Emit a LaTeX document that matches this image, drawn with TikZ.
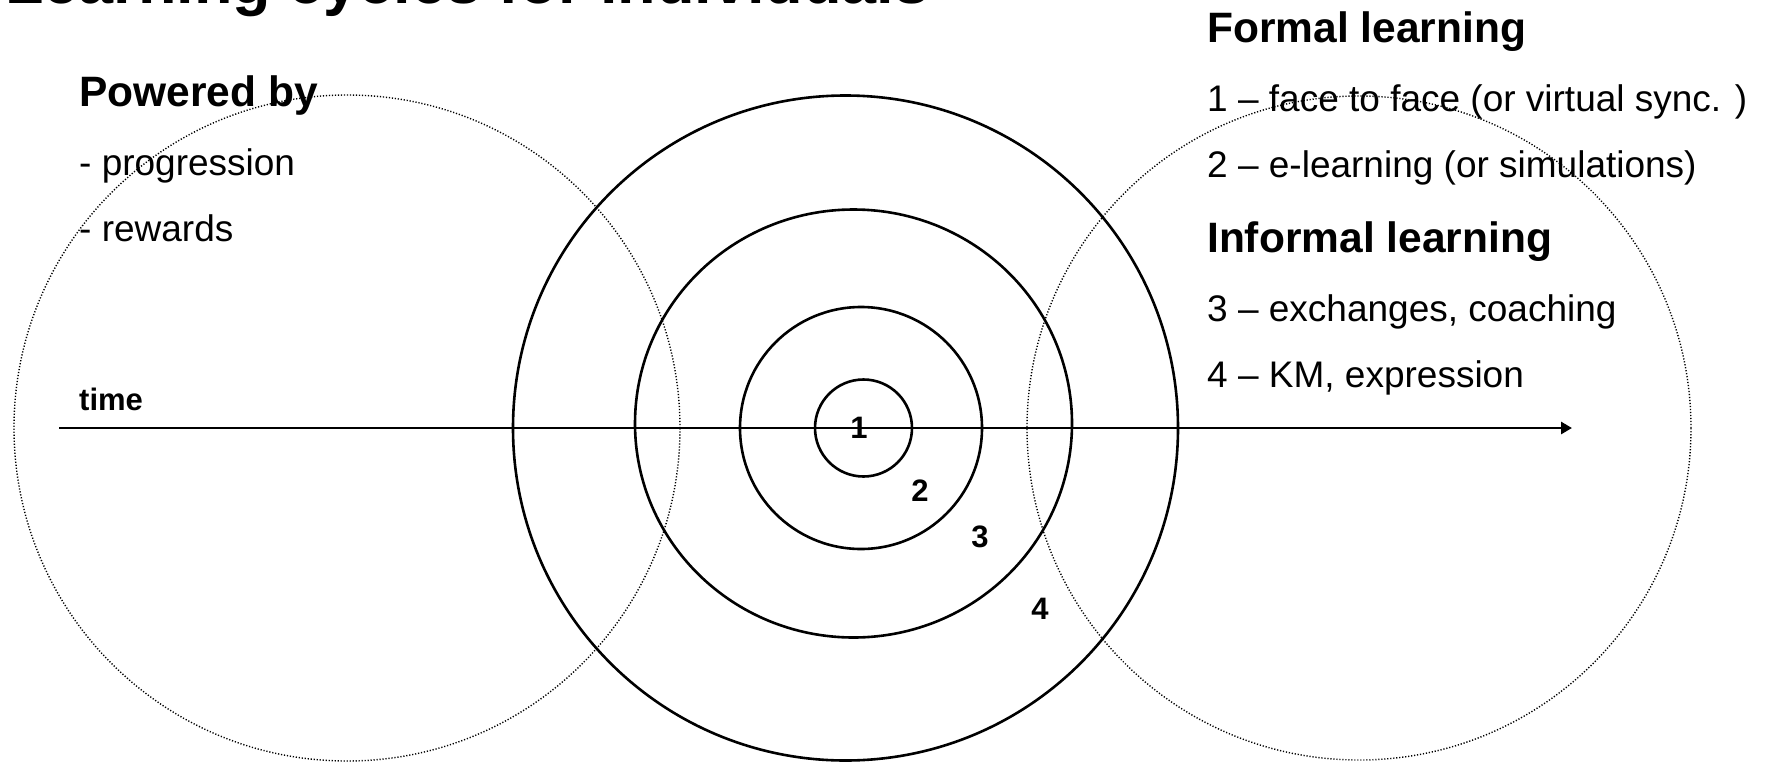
\documentclass[tikz,border=0pt]{standalone}
\usepackage{fontspec}
\setmainfont{Liberation Sans}
\usetikzlibrary{arrows.meta,shapes.geometric}
\begin{document}
\begin{tikzpicture}[x=1pt,y=-1pt,
  ring/.style={circle, draw, line width=2.6pt, inner sep=0pt},
  halo/.style={circle, draw, line width=1.4pt, dash pattern=on 1.2pt off 1.8pt, inner sep=0pt},
  head/.style={anchor=west, inner sep=0pt, font=\fontsize{42.5}{50}\selectfont\bfseries},
  body/.style={anchor=west, inner sep=0pt, font=\fontsize{37}{44}\selectfont},
  num/.style={inner sep=0pt, font=\fontsize{31}{36}\selectfont\bfseries},
  axis/.style={line width=2.9pt, -{Triangle[length=11pt,width=12pt]}}]
\useasboundingbox (0,0) rectangle (1767,761);
% dotted circles
\node[halo, minimum size=666pt] (hl) at (347,428) {};
\node[halo, minimum size=664pt] (hr) at (1359,428) {};
% concentric rings
\node[ring, minimum size=665pt] (c4) at (845.5,428) {};
\node[ring, ellipse, minimum width=437pt, minimum height=428pt] (c3) at (853.5,423.5) {};
\node[ring, minimum size=242pt] (c2) at (861,428) {};
\node[ring, minimum size=97pt] (c1) at (863.5,428) {};
% time axis
\coordinate (t0) at (59,428);
\coordinate (t1) at (1572,428);
\draw[axis] (t0) -- (t1);
\node[anchor=west, inner sep=0pt, font=\fontsize{31}{36}\selectfont\bfseries] (time) at (79,399) {time};
% numbers
\node[num] (n1) at (859,428) {1};
\node[num] (n2) at (920,491) {2};
\node[num] (n3) at (980,537) {3};
\node[num] (n4) at (1040,609) {4};
% title
\node[anchor=base west, inner sep=0pt, font=\fontsize{63}{70}\selectfont\bfseries] (title) at (5,3.5) {Learning cycles for individuals};
% left texts
\node[head] (pow) at (79,95.5) {Powered by};
\node[body] (p1) at (79,165.5) {- progression};
\node[body] (p2) at (79,228) {- rewards};
% right texts
\node[head] (formal) at (1207,32) {Formal learning};
\node[body] (f1) at (1207,102) {1 – face to face (or virtual sync. )};
\node[body] (f2) at (1207,167.5) {2 – e-learning (or simulations)};
\node[head] (informal) at (1207,242) {Informal learning};
\node[body] (i3) at (1207,311.5) {3 – exchanges, coaching};
\node[body] (i4) at (1207,377.5) {4 – KM, expression};
\end{tikzpicture}
\end{document}
